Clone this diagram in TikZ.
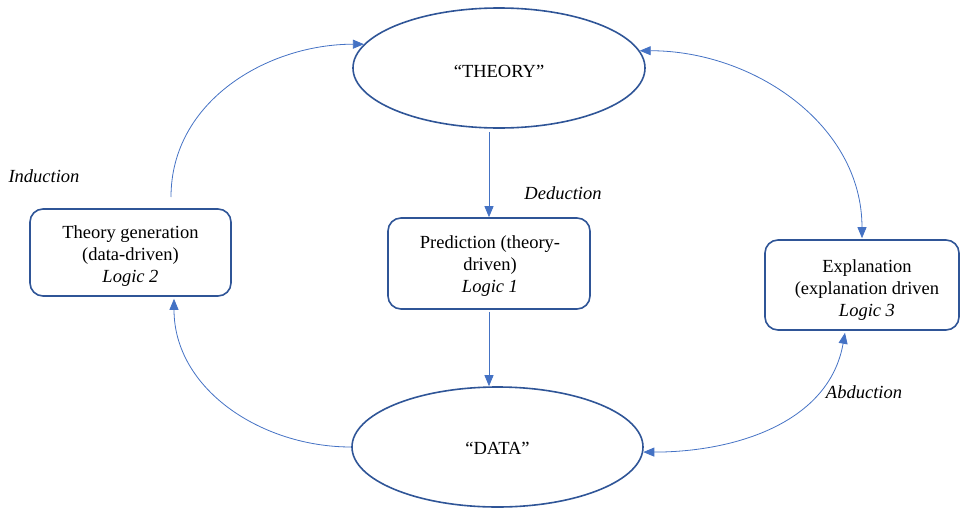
\documentclass[tikz,border=0pt]{standalone}
\usepackage{fontspec}
\setmainfont{Liberation Serif}
\usetikzlibrary{shapes.geometric,arrows.meta}
\definecolor{boxblue}{HTML}{2F5597}
\definecolor{arrblue}{HTML}{4472C4}
\begin{document}
\begin{tikzpicture}[x=1pt,y=-1pt,
  every node/.style={font=\fontsize{18.5}{22}\selectfont},
  oval/.style={ellipse, draw=boxblue, line width=1.6pt, inner sep=0pt},
  rbox/.style={draw=boxblue, line width=1.6pt, rounded corners=13pt, inner sep=0pt},
  txt/.style={align=center, inner sep=0pt},
  arr/.style={draw=arrblue, line width=0.8pt, -{Triangle[length=11pt,width=9pt]}},
  darr/.style={draw=arrblue, line width=0.8pt, {Triangle[length=11pt,width=9pt]}-{Triangle[length=11pt,width=9pt]}},
  lbl/.style={font=\fontsize{18.5}{22}\selectfont\itshape}]
\useasboundingbox (0,0) rectangle (962,509);
% shapes
\node[oval, minimum width=292pt, minimum height=120pt] (theory) at (499,68) {};
\node[oval, minimum width=291pt, minimum height=120pt] (data) at (497.5,447) {};
\node[rbox, minimum width=201pt, minimum height=87pt] (gen) at (130.5,252.5) {};
\node[rbox, minimum width=202pt, minimum height=91pt] (pred) at (489,263.5) {};
\node[rbox, minimum width=194pt, minimum height=90pt] (expl) at (862,285) {};
% texts
\node[txt] (theorytxt) at (499,71) {“THEORY”};
\node[txt] (datatxt) at (497.5,448.5) {“DATA”};
\node[txt] (gentxt) at (130.5,256.5) {Theory generation\\(data-driven)\\\textit{Logic 2}};
\node[txt] (predtxt) at (490,266.5) {Prediction (theory-\\driven)\\\textit{Logic 1}};
\node[txt] (expltxt) at (867,290) {Explanation\\(explanation driven\\\textit{Logic 3}};
% connectors
\coordinate (indstart) at (171,197);
\draw[arr] (indstart) to[out=90,in=180] (theory.170.5);
\draw[arr] ([yshift=-3pt]theory.south -| pred.north) -- (pred.north);
\draw[arr] ([yshift=-2pt]pred.south) -- (pred.south |- data.north);
\draw[arr] (data.west) to[out=180,in=270] ([xshift=43.5pt,yshift=-2pt]gen.south);
\draw[darr] (theory.7.8) to[out=0,in=90] ([yshift=1pt]expl.north);
\draw[darr] (data.-2) to[out=0,in=-100] ([xshift=-17pt,yshift=-2pt]expl.south);
% labels
\node[lbl] (ind) at (44,176) {Induction};
\node[lbl] (ded) at (563,193) {Deduction};
\node[lbl] (abd) at (864,392) {Abduction};
\end{tikzpicture}
\end{document}
